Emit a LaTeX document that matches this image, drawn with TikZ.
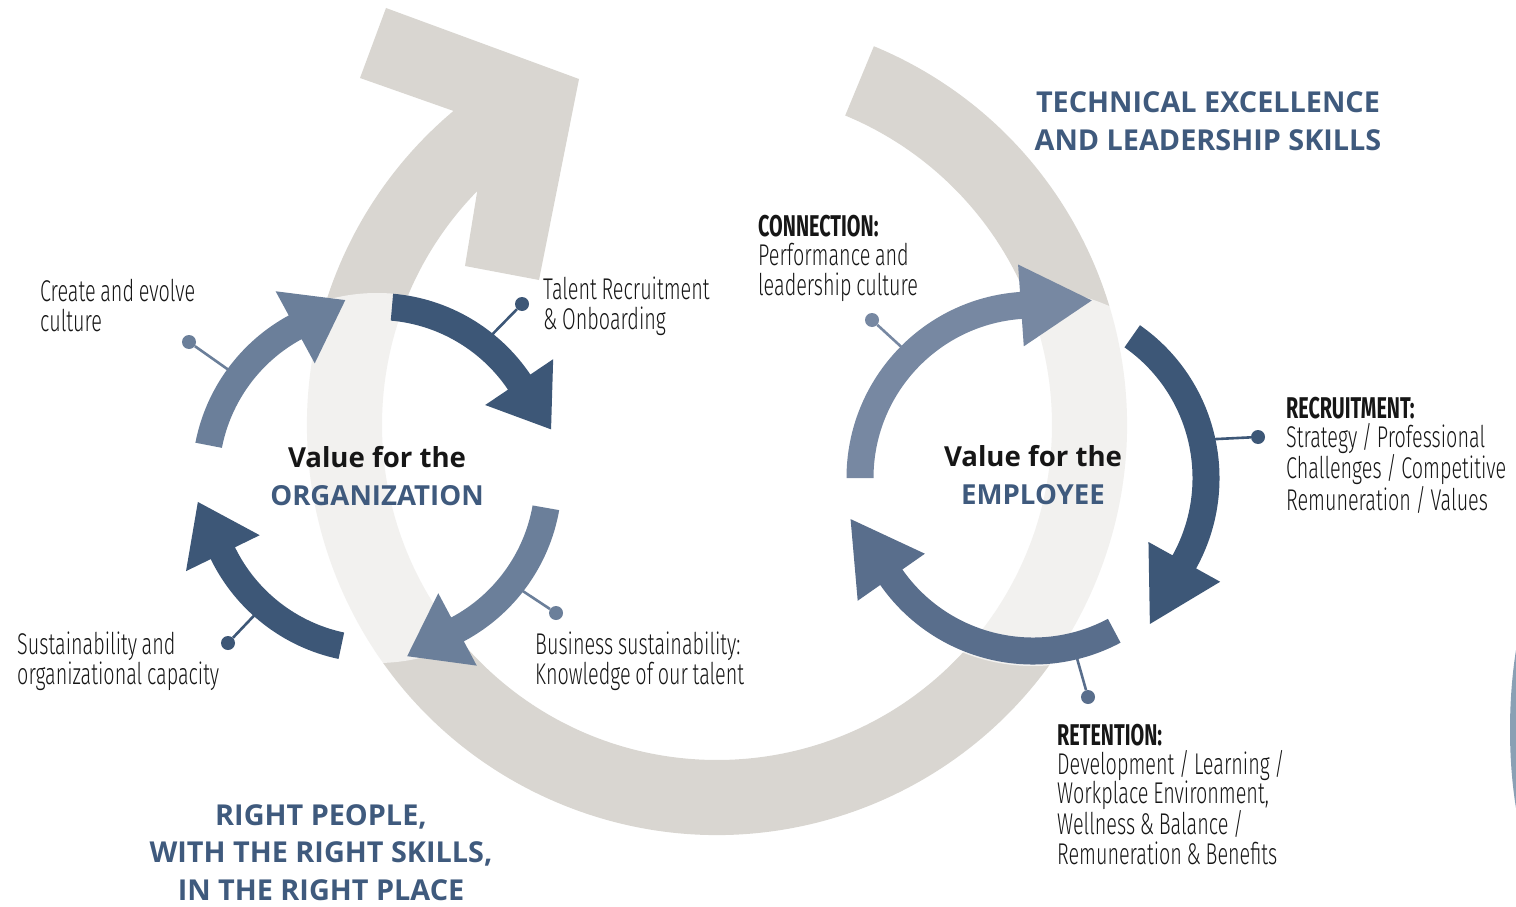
\documentclass[tikz,border=0pt]{standalone}
\usepackage{fontspec}
\setmainfont{Open Sans}
\newfontfamily\vcCond{Fira Sans Light}[FakeStretch=0.66, WordSpace=0.85, BoldFont={Fira Sans Bold}]
\usetikzlibrary{calc}
\definecolor{vcInk}{HTML}{161616}
\definecolor{vcBand}{HTML}{D9D6D1}
\definecolor{vcDeep}{HTML}{3D5777}
\definecolor{vcSlate}{HTML}{6B7F9A}
\definecolor{vcPale}{HTML}{7788A2}
\definecolor{vcMid}{HTML}{596E8C}
\definecolor{vcTitle}{HTML}{3F5A7D}
\definecolor{vcEdge}{HTML}{8AA0B4}
\newcommand{\vcHalf}{13.5}
\newcommand{\vcHeadHalf}{41}
\tikzset{
  vcbody/.style={
    anchor=base west, align=left, inner sep=0pt, text=vcInk,
    font=\vcCond\fontsize{30}{29.2}\selectfont,
  },
  vctitle/.style={
    anchor=base, align=center, inner sep=0pt, text=vcTitle,
    font=\bfseries\fontsize{28.8}{37.5}\selectfont,
  },
  vccentre/.style={vctitle, font=\bfseries\fontsize{27.6}{37.5}\selectfont},
  vcdot/.style={circle, fill=#1, inner sep=0pt, minimum size=14pt},
  vclead/.style={draw=#1, line width=2.6pt},
}
% #1 centre, #2 colour, #3 start angle, #4 head angle, #5 mid radius, #6 head length
\newcommand{\vcringarrow}[6]{%
  \fill[#2] ($(#1)+(#3:{#5+\vcHalf})$)
    arc[start angle=#3, end angle=#4, radius={#5+\vcHalf}]
    -- ($(#1)+(#4:{#5+\vcHeadHalf})$)
    -- ($(#1)+(#4:#5)+({#4-90}:#6)$)
    -- ($(#1)+(#4:{#5-\vcHeadHalf})$)
    -- ($(#1)+(#4:{#5-\vcHalf})$)
    arc[start angle=#4, end angle=#3, radius={#5-\vcHalf}] -- cycle;%
}

\begin{document}
\begin{tikzpicture}[x=1pt, y=1pt]
\useasboundingbox (0,0) rectangle (1516,-907);

\coordinate (bandC) at (717,-425);
\coordinate (orgC) at (377,-478);
\coordinate (empC) at (1033,-478);

% Big band ----------------------------------------------------------------
\fill[vcBand] ($(bandC)+(67.5:410)$) arc[start angle=67.5, end angle=-230, radius=410]
  -- (360,-78) -- (386,-8) -- (579,-79) -- (539,-280) -- (465,-266)
  -- ($(bandC)+(135.7:335)$) arc[start angle=135.7, end angle=427.5, radius=335] -- cycle;
\fill[white, fill opacity=0.67] (orgC) circle[radius=185];
\fill[white, fill opacity=0.67] (empC) circle[radius=188];
\fill[vcEdge] (1516,-650) .. controls (1508,-700) and (1508,-760) .. (1516,-808) -- cycle;

% Leaders -----------------------------------------------------------------
\foreach \n/\c/\x/\y/\o/\a in {dCreate/vcSlate/189/342/orgC/143.9,
    dTalent/vcDeep/522/304/orgC/51.5, dBusiness/vcSlate/556/613/orgC/-38,
    dSustain/vcDeep/228/643/orgC/-131.7, dConnect/vcPale/872/320/empC/135,
    dRecruit/vcDeep/1258/437/empC/12.6, dRetain/vcMid/1088/697/empC/-76.4}{%
  \node[vcdot=\c] (\n) at (\x,-\y) {};
  \coordinate (\n-end) at ($(\o)+(\a:176)$);
  \draw[vclead=\c] (\n) -- (\n-end);
}

% Rings -------------------------------------------------------------------
\vcringarrow{orgC}{vcSlate}{169}{118.5}{171.5}{57}
\vcringarrow{orgC}{vcDeep}{85}{34}{171.5}{57}
\vcringarrow{orgC}{vcSlate}{-10}{-62}{171.5}{57}
\vcringarrow{orgC}{vcDeep}{-102}{-154}{171.5}{57}
\vcringarrow{empC}{vcPale}{180}{94}{173}{71}
\vcringarrow{empC}{vcDeep}{55}{-29}{173}{71}
\vcringarrow{empC}{vcMid}{-62}{-145}{173}{71}

% Texts (placed at the baseline of their last line) -----------------------
\node[vcbody] (tCreate) at (40,-331) {Create and evolve\\culture};
\node[vcbody] (tTalent) at (543,-329) {Talent Recruitment\\\& Onboarding};
\node[vcbody] (tBusiness) at (535,-684) {Business sustainability:\\Knowledge of our talent};
\node[vcbody] (tSustain) at (17,-684) {Sustainability and\\organizational capacity};
\node[vcbody] (tConnect) at (758,-295) {\textbf{CONNECTION:}\\Performance and\\leadership culture};
\node[vcbody] (tRecruit) at (1286,-510) {\textbf{RECRUITMENT:}\\Strategy / Professional\\Challenges / Competitive\\Remuneration / Values};
\node[vcbody] (tRetain) at (1057,-864) {\textbf{RETENTION:}\\Development / Learning /\\Workplace Environment,\\Wellness \& Balance /\\Remuneration \& Benefits};

\node[vctitle] (tTech) at (1208,-150) {TECHNICAL EXCELLENCE\\AND LEADERSHIP SKILLS};
\node[vctitle] (tRight) at (321,-900) {RIGHT PEOPLE,\\WITH THE RIGHT SKILLS,\\IN THE RIGHT PLACE};
\node[vccentre] (tOrg) at (377,-505) {\textcolor{vcInk}{Value for the}\\ORGANIZATION};
\node[vccentre] (tEmp) at (1033,-504) {\textcolor{vcInk}{Value for the}\\EMPLOYEE};

\end{tikzpicture}
\end{document}
